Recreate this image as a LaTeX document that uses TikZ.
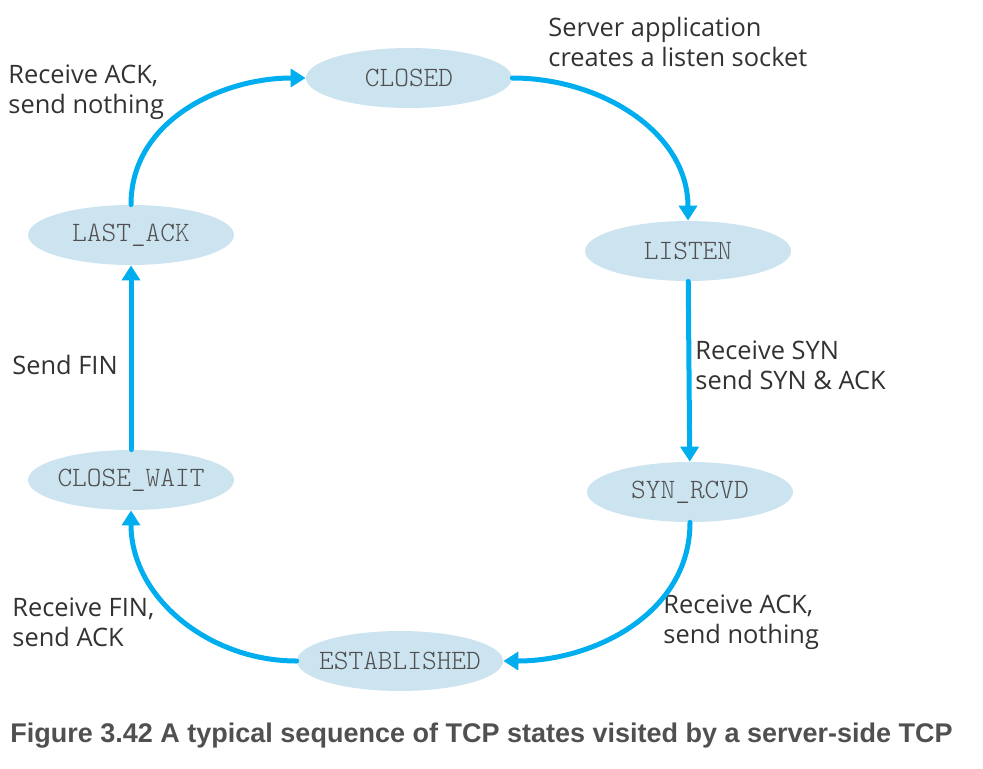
\documentclass[tikz,border=0pt]{standalone}
\usepackage{fontspec}
\setmainfont{Open Sans}
\setmonofont{Latin Modern Mono Light}
\newfontfamily\capfont{Liberation Sans}
\usetikzlibrary{shapes.geometric,arrows.meta}
\definecolor{tcpblue}{RGB}{0,174,239}
\definecolor{statefill}{RGB}{204,227,240}
\definecolor{stategray}{RGB}{80,80,80}
\definecolor{lblgray}{RGB}{50,50,50}
\begin{document}
\begin{tikzpicture}[x=0.5pt,y=0.5pt,line cap=round,
		state/.style={ellipse,fill=statefill,minimum width=103pt,minimum height=30pt,inner xsep=-14pt,inner ysep=0pt,text=stategray,font=\ttfamily\fontsize{14}{16}\selectfont},
		lbl/.style={anchor=west,align=left,inner sep=0pt,text=lblgray,font=\fontsize{12.7}{15}\selectfont},
		trans/.style={draw=tcpblue,line width=2.5pt,-{Triangle[width=9pt,length=7.5pt]}}]
			\useasboundingbox (0,0) rectangle (983,768);
			\node[state] (closed) at (409,690) {CLOSED};
			\node[state] (listen) at (688,517) {LISTEN};
			\node[state] (synrcvd) at (690,276) {SYN\_RCVD};
			\node[state] (estab) at (400,107) {ESTABLISHED};
			\node[state] (closewait) at (131,288) {CLOSE\_WAIT};
			\node[state] (lastack) at (131,533) {LAST\_ACK};
			\node[lbl] (lserver) at (548,726) {Server application\\creates a listen socket};
			\node[lbl] (lsyn) at (695,403) {Receive SYN\\send SYN \& ACK};
			\node[lbl] (lack) at (663,146) {Receive ACK,\\send nothing};
			\node[lbl] (lfin) at (12,146) {Receive FIN,\\send ACK};
			\node[lbl] (lsendfin) at (12,403) {Send FIN};
			\node[lbl] (llastack) at (8,676) {Receive ACK,\\send nothing};
			\draw[trans] (closed) to[out=0,in=90] (listen);
			\draw[trans] (listen) -- (synrcvd);
			\draw[trans] (synrcvd) to[out=-90,in=0] (estab);
			\draw[trans] (estab) to[out=180,in=-90] (closewait);
			\draw[trans] (closewait) -- (lastack);
			\draw[trans] (lastack) to[out=90,in=180] (closed);
			\node[anchor=west,inner sep=0pt,text=stategray,font=\capfont\bfseries\fontsize{13.5}{16}\selectfont] (caption) at (10,32) {Figure 3.42 A typical sequence of TCP states visited by a server-side TCP};
		\end{tikzpicture}
\end{document}
